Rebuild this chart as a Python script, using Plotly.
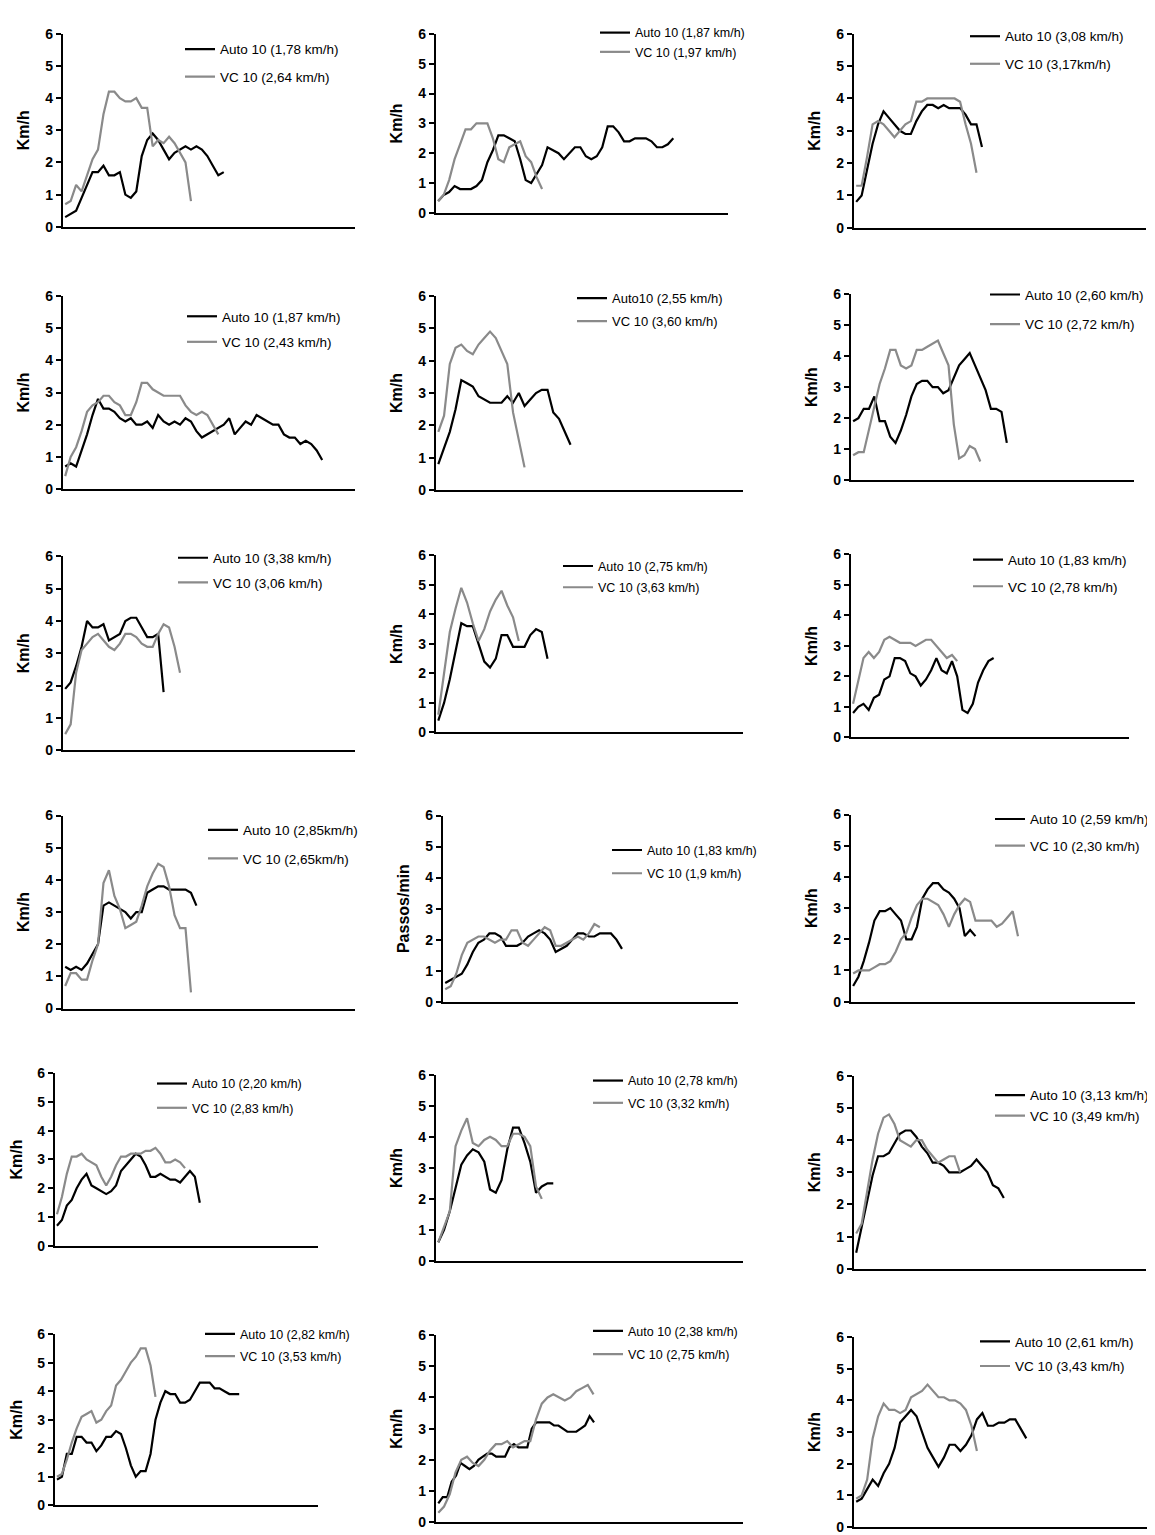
import plotly.graph_objects as go

W, H = 1155, 1535

auto_labels = [
    "Auto 10 (1,78 km/h)", "Auto 10 (1,87 km/h)", "Auto 10 (3,08 km/h)",
    "Auto 10 (1,87 km/h)", "Auto10 (2,55 km/h)", "Auto 10 (2,60 km/h)",
    "Auto 10 (3,38 km/h)", "Auto 10 (2,75 km/h)", "Auto 10 (1,83 km/h)",
    "Auto 10 (2,85km/h)", "Auto 10 (1,83 km/h)", "Auto 10 (2,59 km/h)",
    "Auto 10 (2,20 km/h)", "Auto 10 (2,78 km/h)", "Auto 10 (3,13 km/h)",
    "Auto 10 (2,82 km/h)", "Auto 10 (2,38 km/h)", "Auto 10 (2,61 km/h)",
]
vc_labels = [
    "VC 10 (2,64 km/h)", "VC 10 (1,97 km/h)", "VC 10 (3,17km/h)",
    "VC 10 (2,43 km/h)", "VC 10 (3,60 km/h)", "VC 10 (2,72 km/h)",
    "VC 10 (3,06 km/h)", "VC 10 (3,63 km/h)", "VC 10 (2,78 km/h)",
    "VC 10 (2,65km/h)", "VC 10 (1,9 km/h)", "VC 10 (2,30 km/h)",
    "VC 10 (2,83 km/h)", "VC 10 (3,32 km/h)", "VC 10 (3,49 km/h)",
    "VC 10 (3,53 km/h)", "VC 10 (2,75 km/h)", "VC 10 (3,43 km/h)",
]
y_titles = ["Km/h"] * 10 + ["Passos/min"] + ["Km/h"] * 7

auto_values = [
    [0.3, 0.4, 0.5, 0.9, 1.3, 1.7, 1.7, 1.9, 1.6, 1.6, 1.7, 1.0, 0.9, 1.1, 2.2, 2.7, 2.9, 2.7, 2.4, 2.1,
     2.3, 2.4, 2.5, 2.4, 2.5, 2.4, 2.2, 1.9, 1.6, 1.7],
    [0.4, 0.6, 0.7, 0.9, 0.8, 0.8, 0.8, 0.9, 1.1, 1.7, 2.1, 2.6, 2.6, 2.5, 2.4, 1.8, 1.1, 1.0, 1.3, 1.6,
     2.2, 2.1, 2.0, 1.8, 2.0, 2.2, 2.2, 1.9, 1.8, 1.9, 2.2, 2.9, 2.9, 2.7, 2.4, 2.4, 2.5, 2.5, 2.5, 2.4,
     2.2, 2.2, 2.3, 2.5],
    [0.8, 1.0, 1.8, 2.6, 3.2, 3.6, 3.4, 3.2, 3.0, 2.9, 2.9, 3.3, 3.6, 3.8, 3.8, 3.7, 3.8, 3.7, 3.7, 3.7,
     3.5, 3.2, 3.2, 2.5],
    [0.7, 0.8, 0.7, 1.2, 1.7, 2.3, 2.8, 2.5, 2.5, 2.4, 2.2, 2.1, 2.2, 2.0, 2.0, 2.1, 1.9, 2.3, 2.1, 2.0,
     2.1, 2.0, 2.2, 2.1, 1.8, 1.6, 1.7, 1.8, 1.9, 2.0, 2.2, 1.7, 1.9, 2.1, 2.0, 2.3, 2.2, 2.1, 2.0, 2.0,
     1.7, 1.6, 1.6, 1.4, 1.5, 1.4, 1.2, 0.9],
    [0.8, 1.3, 1.8, 2.5, 3.4, 3.3, 3.2, 2.9, 2.8, 2.7, 2.7, 2.7, 2.9, 2.7, 3.0, 2.6, 2.8, 3.0, 3.1, 3.1,
     2.4, 2.2, 1.8, 1.4],
    [1.9, 2.0, 2.3, 2.3, 2.7, 1.9, 1.9, 1.4, 1.2, 1.6, 2.1, 2.7, 3.1, 3.2, 3.2, 3.0, 3.0, 2.8, 2.9, 3.3,
     3.7, 3.9, 4.1, 3.7, 3.3, 2.9, 2.3, 2.3, 2.2, 1.2],
    [1.9, 2.1, 2.6, 3.2, 4.0, 3.8, 3.8, 3.9, 3.4, 3.5, 3.6, 4.0, 4.1, 4.1, 3.8, 3.5, 3.5, 3.6, 1.8],
    [0.4, 1.0, 1.8, 2.7, 3.7, 3.6, 3.6, 3.0, 2.4, 2.2, 2.5, 3.3, 3.3, 2.9, 2.9, 2.9, 3.3, 3.5, 3.4, 2.5],
    [0.8, 1.0, 1.1, 0.9, 1.3, 1.4, 1.9, 2.0, 2.6, 2.6, 2.5, 2.1, 2.0, 1.7, 1.9, 2.2, 2.6, 2.2, 2.1, 2.5,
     2.0, 0.9, 0.8, 1.1, 1.8, 2.2, 2.5, 2.6],
    [1.3, 1.2, 1.3, 1.2, 1.4, 1.7, 2.0, 3.2, 3.3, 3.2, 3.1, 3.0, 2.8, 3.0, 3.0, 3.6, 3.7, 3.8, 3.8, 3.7,
     3.7, 3.7, 3.7, 3.6, 3.2],
    [0.6, 0.7, 0.8, 0.9, 1.2, 1.6, 1.9, 2.0, 2.2, 2.2, 2.1, 1.8, 1.8, 1.8, 1.9, 2.1, 2.2, 2.3, 2.2, 2.0,
     1.6, 1.7, 1.8, 2.0, 2.2, 2.2, 2.1, 2.1, 2.2, 2.2, 2.2, 2.0, 1.7],
    [0.5, 0.8, 1.3, 1.9, 2.6, 2.9, 2.9, 3.0, 2.8, 2.6, 2.0, 2.0, 2.4, 3.3, 3.6, 3.8, 3.8, 3.6, 3.5, 3.3,
     3.0, 2.1, 2.3, 2.1],
    [0.7, 0.9, 1.4, 1.6, 2.0, 2.3, 2.5, 2.1, 2.0, 1.9, 1.8, 1.9, 2.1, 2.6, 2.8, 3.0, 3.2, 3.1, 2.8, 2.4,
     2.4, 2.5, 2.4, 2.3, 2.3, 2.2, 2.4, 2.6, 2.4, 1.5],
    [0.6, 1.0, 1.6, 2.4, 3.1, 3.4, 3.6, 3.5, 3.2, 2.3, 2.2, 2.6, 3.6, 4.3, 4.3, 3.8, 3.2, 2.2, 2.4, 2.5,
     2.5],
    [0.5, 1.3, 2.2, 2.9, 3.5, 3.5, 3.6, 3.9, 4.2, 4.3, 4.3, 4.1, 3.8, 3.6, 3.3, 3.3, 3.2, 3.0, 3.0, 3.0,
     3.1, 3.2, 3.4, 3.2, 3.0, 2.6, 2.5, 2.2],
    [0.9, 1.0, 1.8, 1.8, 2.4, 2.4, 2.2, 2.2, 1.9, 2.1, 2.4, 2.4, 2.6, 2.5, 2.0, 1.4, 1.0, 1.2, 1.2, 1.8,
     3.0, 3.6, 4.0, 3.9, 3.9, 3.6, 3.6, 3.7, 4.0, 4.3, 4.3, 4.3, 4.1, 4.1, 4.0, 3.9, 3.9, 3.9],
    [0.6, 0.8, 0.8, 1.3, 1.5, 1.9, 1.8, 1.7, 1.8, 2.0, 2.1, 2.2, 2.2, 2.1, 2.1, 2.1, 2.4, 2.5, 2.4, 2.4,
     2.4, 3.0, 3.2, 3.2, 3.2, 3.2, 3.1, 3.1, 3.0, 2.9, 2.9, 2.9, 3.0, 3.1, 3.4, 3.2],
    [0.8, 0.9, 1.2, 1.5, 1.3, 1.7, 2.0, 2.5, 3.3, 3.5, 3.7, 3.5, 3.0, 2.5, 2.2, 1.9, 2.2, 2.6, 2.6, 2.4,
     2.6, 2.9, 3.4, 3.6, 3.2, 3.2, 3.3, 3.3, 3.4, 3.4, 3.1, 2.8],
]
vc_values = [
    [0.7, 0.8, 1.3, 1.1, 1.6, 2.1, 2.4, 3.5, 4.2, 4.2, 4.0, 3.9, 3.9, 4.0, 3.7, 3.7, 2.5, 2.7, 2.6, 2.8,
     2.6, 2.3, 2.0, 0.8],
    [0.4, 0.6, 1.1, 1.8, 2.3, 2.8, 2.8, 3.0, 3.0, 3.0, 2.5, 1.8, 1.7, 2.2, 2.3, 2.4, 1.9, 1.7, 1.2, 0.8],
    [1.3, 1.3, 2.2, 3.2, 3.3, 3.2, 3.0, 2.8, 3.0, 3.2, 3.3, 3.9, 3.9, 4.0, 4.0, 4.0, 4.0, 4.0, 4.0, 3.9,
     3.2, 2.6, 1.7],
    [0.4, 1.0, 1.3, 1.8, 2.4, 2.6, 2.7, 2.9, 2.9, 2.7, 2.6, 2.3, 2.3, 2.7, 3.3, 3.3, 3.1, 3.0, 2.9, 2.9,
     2.9, 2.9, 2.6, 2.4, 2.3, 2.4, 2.3, 2.0, 1.7],
    [1.8, 2.3, 3.9, 4.4, 4.5, 4.3, 4.2, 4.5, 4.7, 4.9, 4.7, 4.3, 3.9, 2.4, 1.5, 0.7],
    [0.8, 0.9, 0.9, 1.6, 2.3, 3.1, 3.6, 4.2, 4.2, 3.7, 3.6, 3.7, 4.2, 4.2, 4.3, 4.4, 4.5, 4.1, 3.7, 1.8,
     0.7, 0.8, 1.1, 1.0, 0.6],
    [0.5, 0.8, 2.4, 3.1, 3.3, 3.5, 3.6, 3.4, 3.2, 3.1, 3.3, 3.6, 3.6, 3.5, 3.3, 3.2, 3.2, 3.6, 3.9, 3.8,
     3.2, 2.4],
    [0.6, 2.0, 3.4, 4.2, 4.9, 4.4, 3.7, 3.1, 3.5, 4.1, 4.5, 4.8, 4.3, 3.9, 3.1],
    [1.1, 1.9, 2.6, 2.8, 2.6, 2.8, 3.2, 3.3, 3.2, 3.1, 3.1, 3.1, 3.0, 3.1, 3.2, 3.2, 3.0, 2.8, 2.6, 2.7,
     2.5],
    [0.7, 1.1, 1.1, 0.9, 0.9, 1.5, 2.0, 3.9, 4.3, 3.5, 3.1, 2.5, 2.6, 2.7, 3.2, 3.8, 4.2, 4.5, 4.4, 3.8,
     2.9, 2.5, 2.5, 0.5],
    [0.4, 0.5, 0.9, 1.5, 1.9, 2.0, 2.1, 2.1, 2.0, 1.9, 2.0, 2.0, 2.3, 2.3, 1.9, 1.8, 2.0, 2.2, 2.4, 2.3,
     1.8, 1.8, 1.9, 2.0, 2.1, 2.0, 2.2, 2.5, 2.4],
    [0.9, 1.0, 1.0, 1.0, 1.1, 1.2, 1.2, 1.3, 1.6, 2.0, 2.2, 2.7, 3.1, 3.3, 3.3, 3.2, 3.1, 2.8, 2.4, 2.8,
     3.1, 3.3, 3.2, 2.6, 2.6, 2.6, 2.6, 2.4, 2.5, 2.7, 2.9, 2.1],
    [1.1, 1.7, 2.5, 3.1, 3.1, 3.2, 3.0, 2.9, 2.8, 2.4, 2.1, 2.4, 2.8, 3.1, 3.1, 3.2, 3.2, 3.2, 3.3, 3.3,
     3.4, 3.2, 2.9, 2.9, 3.0, 2.9, 2.7],
    [0.6, 1.1, 1.6, 3.7, 4.2, 4.6, 3.8, 3.7, 3.9, 4.0, 3.9, 3.7, 3.7, 4.1, 4.1, 4.0, 3.7, 2.4, 2.0],
    [1.1, 1.4, 2.4, 3.4, 4.2, 4.7, 4.8, 4.5, 4.0, 3.9, 3.8, 4.0, 4.0, 3.7, 3.5, 3.3, 3.4, 3.5, 3.5, 3.0],
    [1.0, 1.1, 1.6, 2.2, 2.7, 3.1, 3.2, 3.3, 2.9, 3.0, 3.3, 3.5, 4.2, 4.4, 4.7, 5.0, 5.2, 5.5, 5.5, 4.9,
     3.8],
    [0.3, 0.5, 0.9, 1.6, 2.0, 2.1, 1.9, 1.8, 2.0, 2.3, 2.5, 2.5, 2.6, 2.4, 2.5, 2.6, 2.6, 3.3, 3.8, 4.0,
     4.1, 4.0, 3.9, 4.0, 4.2, 4.3, 4.4, 4.1],
    [0.9, 1.0, 1.5, 2.8, 3.5, 3.9, 3.7, 3.7, 3.6, 3.7, 4.1, 4.2, 4.3, 4.5, 4.3, 4.1, 4.1, 4.0, 4.0, 3.9,
     3.7, 3.2, 2.4],
]
# sampling interval of each series (time units on the x axis)
auto_step = [1.0] * 18
auto_step[16] = 0.774
vc_step = [1.0] * 18

# ---- layout (pixels): plot area left, right, y of 0, y of 6 ----
panels_px = [
    (55, 347, 213, 18), (428, 720, 199, 18), (846, 1138, 214, 18),
    (55, 347, 478, 283), (428, 735, 479, 283), (843, 1126, 469, 281),
    (55, 347, 742, 546), (428, 735, 724, 545), (843, 1121, 729, 544),
    (55, 347, 1003, 808), (435, 730, 996, 808), (843, 1127, 996, 807),
    (47, 310, 1243, 1068), (428, 735, 1258, 1070), (846, 1138, 1266, 1071),
    (47, 310, 1505, 1332), (428, 735, 1522, 1333), (846, 1139, 1527, 1335),
]
# legend: text left x, first row y, second row y, font size
legend_px = [
    (220, 47, 73, 13.5), (635, 31, 49, 12.5), (1005, 34, 60, 13.5),
    (222, 317, 341, 13.5), (612, 299, 321, 13), (1025, 295, 323, 13.5),
    (213, 561, 584, 13.5), (598, 570, 591, 12.5), (1008, 563, 588, 13.5),
    (243, 836, 863, 13.5), (647, 857, 880, 12.5), (1030, 825, 850, 13.5),
    (192, 1093, 1117, 12.5), (628, 1090, 1112, 12.5), (1030, 1104, 1123, 13.5),
    (240, 1346, 1368, 12.5), (628, 1343, 1366, 12.5), (1015, 1353, 1376, 13.5),
]

FONT = "Liberation Sans, Arial, Helvetica, sans-serif"
BLACK = "#000000"
GRAY = "#8a8a8a"

fig = go.Figure()
layout = dict(
    width=W, height=H, margin=dict(l=0, r=0, t=0, b=0),
    paper_bgcolor="white", plot_bgcolor="white",
    font=dict(family=FONT, color="black"),
)

for k in range(18):
    n = k + 1
    sfx = "" if n == 1 else str(n)
    leg = "legend" + sfx
    xa, ya = "x" + sfx, "y" + sfx
    av, vv = auto_values[k], vc_values[k]
    ax_ = [i * auto_step[k] for i in range(len(av))]
    vx_ = [i * vc_step[k] for i in range(len(vv))]
    fig.add_trace(go.Scatter(x=ax_, y=av, mode="lines", name=auto_labels[k],
                             line=dict(color=BLACK, width=2.2), xaxis=xa, yaxis=ya,
                             legend=leg, legendgroup=f"a{n}"))
    fig.add_trace(go.Scatter(x=vx_, y=vv, mode="lines", name=vc_labels[k],
                             line=dict(color=GRAY, width=2.2), xaxis=xa, yaxis=ya,
                             legend=leg, legendgroup=f"v{n}"))

    x0, x1, yb, yt = panels_px[k]
    layout["xaxis" + sfx] = dict(
        domain=[x0 / W, x1 / W], anchor=ya, range=[-0.4, 53],
        showline=True, linecolor="black", linewidth=2.2, showticklabels=False,
        ticks="", showgrid=False, zeroline=False, fixedrange=True,
    )
    layout["yaxis" + sfx] = dict(
        domain=[1 - yb / H, 1 - yt / H], anchor=xa, range=[0, 6],
        tickvals=[0, 1, 2, 3, 4, 5, 6], ticks="outside", ticklen=5, tickwidth=1.5,
        tickcolor="black", showline=True, linecolor="black", linewidth=2.2,
        showgrid=False, zeroline=False,
        tickfont=dict(family=FONT, size=14, color="black", weight="bold"),
        title=dict(text=y_titles[k], standoff=12,
                   font=dict(family=FONT, size=16, color="black", weight="bold")),
    )
    tx, r1, r2, fs = legend_px[k]
    layout[leg] = dict(
        x=(tx - 48) / W, y=1 - (r1 - 29) / H, xanchor="left", yanchor="top",
        bgcolor="rgba(0,0,0,0)", borderwidth=0, traceorder="grouped",
        tracegroupgap=max(0, (r2 - r1) - 19),
        font=dict(family=FONT, size=fs, color="black"),
    )

fig.update_layout(**layout)
fig.write_html("out.html")
